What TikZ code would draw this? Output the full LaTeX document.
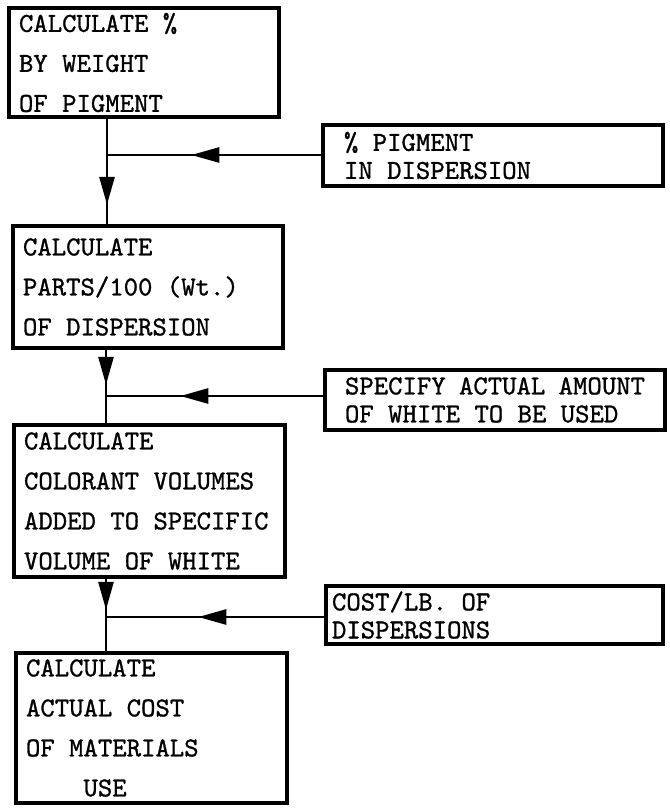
\documentclass[tikz,border=0pt]{standalone}
\usepackage{fontspec}
\newfontfamily\twfont{lmmono10-regular.otf}[FakeBold=1.0]
\usetikzlibrary{arrows.meta,decorations.markings}
\begin{document}
\begin{tikzpicture}[x=1pt,y=-1pt,
  mainbox/.style={draw, line width=3.6pt, inner xsep=10pt, inner ysep=0pt,
    align=flush left, font=\twfont\fontsize{27.4}{40}\selectfont, anchor=center},
  inbox/.style={draw, line width=3.4pt, inner ysep=0pt,
    align=flush left, font=\twfont\fontsize{27.4}{28}\selectfont, anchor=center},
  conn/.style={line width=2.7pt},
  midarrow/.style={postaction={decorate}, decoration={markings,
    mark=at position #1 with {\arrow{Triangle[length=28pt,width=15pt]}}}}
]
\fill[white] (0,0) rectangle (669,808);
\useasboundingbox (0,0) rectangle (669,808);

% main process boxes
\node[mainbox, text width=250pt, minimum height=109pt] (b1) at (144,62.5)
  {CALCULATE \%\\BY WEIGHT\\OF PIGMENT};
\node[mainbox, text width=250pt, minimum height=122pt] (b2) at (148,287)
  {CALCULATE\\PARTS/100 (Wt.)\\OF DISPERSION};
\node[mainbox, text width=251pt, minimum height=152pt] (b3) at (149.5,501)
  {CALCULATE\\COLORANT VOLUMES\\ADDED TO SPECIFIC\\VOLUME OF WHITE};
\node[mainbox, text width=251pt, minimum height=150pt] (b4) at (151.5,728)
  {CALCULATE\\ACTUAL COST\\OF MATERIALS\\\phantom{XXXX}USE};

% input boxes
\node[inbox, inner xsep=21pt, text width=298pt, minimum height=61pt] (ia) at (493,155.5)
  {\% PIGMENT\\IN DISPERSION};
\node[inbox, inner xsep=20pt, text width=300pt, minimum height=60pt] (ib) at (495,400)
  {SPECIFY ACTUAL AMOUNT\\OF WHITE TO BE USED};
\node[inbox, inner xsep=6pt, text width=325pt, minimum height=58pt] (ic) at (494.5,615)
  {COST/LB. OF\\DISPERSIONS};

% junctions
\coordinate (j1) at (107,155);
\coordinate (j2) at (106,396);
\coordinate (j3) at (106,617);

% connectors
\draw[conn, midarrow=130pt] (ia.west |- j1) -- (j1);
\draw[conn, midarrow=86pt] (b1.south -| j1) -- (b2.north -| j1);
\draw[conn, midarrow=143pt] (ib.west |- j2) -- (j2);
\draw[conn, midarrow=35pt] (b2.south -| j2) -- (b3.north -| j2);
\draw[conn, midarrow=126pt] (ic.west |- j3) -- (j3);
\draw[conn, midarrow=31pt] (b3.south -| j3) -- (b4.north -| j3);
\end{tikzpicture}
\end{document}
